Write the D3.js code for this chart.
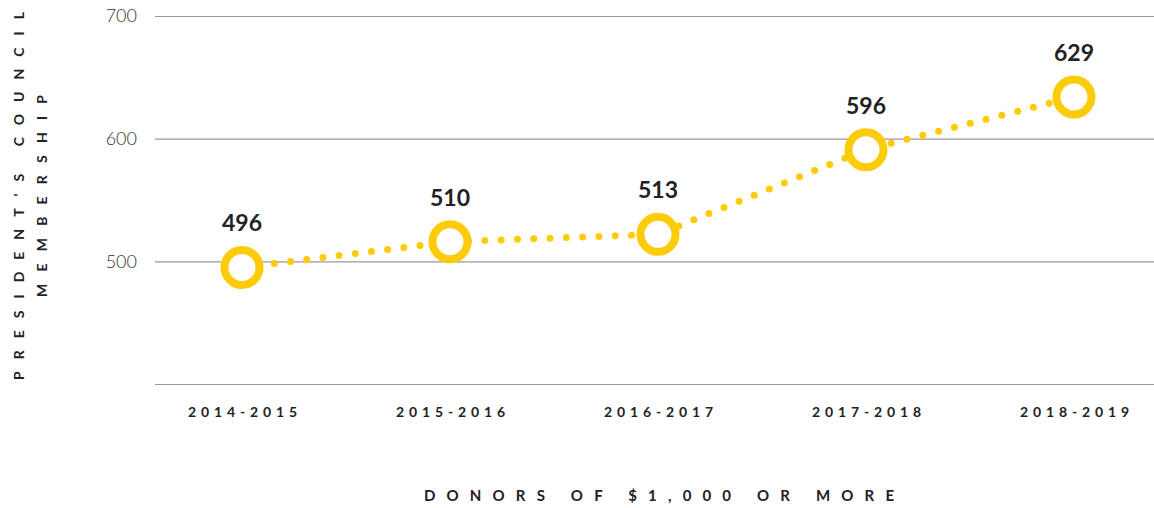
<!DOCTYPE html>
<html><head><meta charset="utf-8">
<script src="https://cdn.jsdelivr.net/npm/d3@7"></script>
<style>body{margin:0;background:#fff}svg{display:block}</style>
</head><body>
<svg id="c" width="1154" height="508"></svg>
<script>
const categories = ["2014-2015","2015-2016","2016-2017","2017-2018","2018-2019"];
const values = [495, 516, 522, 591, 634];
const valueLabels = ["496","510","513","596","629"];
const yTicks = [400, 500, 600, 700];
const yTickLabels = ["", "500", "600", "700"];

const svg = d3.select("#c");
const W = 1154;
const x = d3.scalePoint().domain(categories).range([242, 1074]);
const y = d3.scaleLinear().domain([400, 700]).range([384, 16]);
const yellow = "#FCCC0A";

// grid + y ticks
const yAxis = d3.axisLeft(y).tickValues(yTicks).tickSize(-(W - 155)).tickPadding(18)
  .tickFormat((d, i) => yTickLabels[i]);
const gy = svg.append("g").attr("transform", "translate(155,0)").call(yAxis);
gy.select(".domain").remove();
gy.selectAll(".tick line").attr("stroke", "#999").attr("stroke-width", 1.2);
gy.selectAll(".tick text").attr("fill", "#333").style("font", "300 18px Lato, 'Open Sans', sans-serif");

// x axis labels
const xAxis = d3.axisBottom(x).tickSize(0).tickPadding(0);
const gx = svg.append("g").attr("transform", "translate(0,407)").call(xAxis);
gx.select(".domain").remove();
gx.selectAll(".tick text").attr("fill", "#222")
  .style("font", "bold 14px Lato, 'Open Sans', sans-serif")
  .attr("textLength", 109).attr("lengthAdjust", "spacing");

// dotted line
const data = categories.map((c, i) => ({c, v: values[i], l: valueLabels[i]}));
const line = d3.line().x(d => x(d.c)).y(d => y(d.v));
svg.append("path").datum(data).attr("d", line).attr("fill", "none")
  .attr("stroke", yellow).attr("stroke-width", 7).attr("stroke-linecap", "round")
  .attr("stroke-dasharray", "0 16.3");

// circles
svg.selectAll("circle.pt").data(data).join("circle").attr("class", "pt")
  .attr("cx", d => x(d.c)).attr("cy", d => y(d.v)).attr("r", 17.5)
  .attr("fill", "#fff").attr("stroke", yellow).attr("stroke-width", 8);

// value labels
svg.selectAll("text.val").data(data).join("text").attr("class", "val")
  .attr("x", d => x(d.c)).attr("y", d => y(d.v) - 36).attr("text-anchor", "middle")
  .attr("fill", "#222").style("font", "bold 23px Lato, 'Open Sans', sans-serif")
  .text(d => d.l);

// axis titles
svg.append("text").attr("x", 659).attr("y", 501).attr("text-anchor", "middle")
  .attr("fill", "#222").style("font", "bold 15px Lato, 'Open Sans', sans-serif")
  .attr("textLength", 470).attr("lengthAdjust", "spacing")
  .text("DONORS OF $1,000 OR MORE");

const yt = svg.append("text").attr("transform", "translate(0,196) rotate(-90)")
  .attr("text-anchor", "middle").attr("fill", "#222")
  .style("font", "bold 14px Lato, 'Open Sans', sans-serif");
yt.append("tspan").attr("x", 0).attr("y", 24).attr("textLength", 368).attr("lengthAdjust", "spacing").text("PRESIDENT'S COUNCIL");
yt.append("tspan").attr("x", 0).attr("y", 47).attr("textLength", 202).attr("lengthAdjust", "spacing").text("MEMBERSHIP");
</script>
</body></html>
